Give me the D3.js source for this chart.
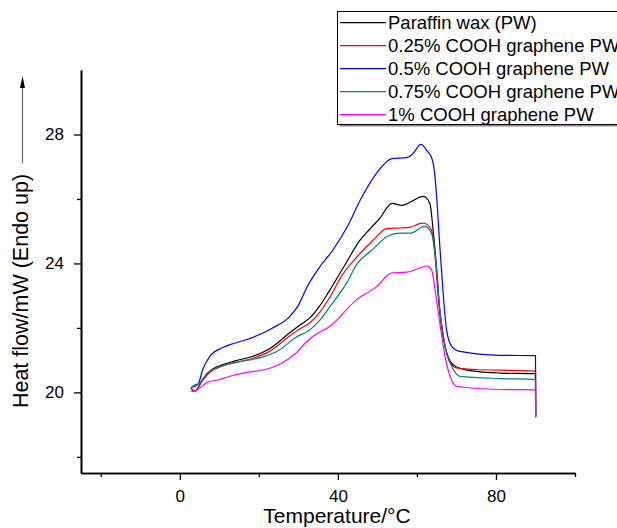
<!DOCTYPE html>
<html>
<head>
<meta charset="utf-8">
<script src="https://cdn.jsdelivr.net/npm/d3@7"></script>
<style>
  body { margin: 0; background: #fff; }
  svg { display: block; font-family: "Liberation Sans", Arial, sans-serif; }
</style>
</head>
<body>
<svg id="chart" width="617" height="528"></svg>
<script>
"use strict";

// DSC curves, [temperature °C, heat flow mW]
const pw = [[2.8,20.12],[3.8,20.04],[5.8,20.40],[7.6,20.66],[10.9,20.86],[14,20.98],[18.5,21.12],[22.8,21.36],[27.8,21.85],[30.5,22.1],[32.9,22.31],[35.5,22.7],[38,23.18],[42,24.0],[45.6,24.72],[48.2,25.08],[50.6,25.4],[53.7,25.86],[56.2,25.8],[58.7,25.93],[61.5,26.08],[62.2,26.05],[63.3,25.85],[64.1,25.03],[65,23.8],[65.8,22.47],[67.1,21.43],[68.4,20.97],[70,20.79],[75,20.65],[81,20.6],[90,20.58],[90.05,19.23]];
const g025 = [[2.8,20.12],[3.8,20.04],[5.8,20.37],[7.6,20.62],[10.9,20.82],[14,20.93],[18.5,21.06],[22.8,21.28],[27.8,21.75],[30.5,21.98],[32.9,22.16],[35.5,22.5],[38,22.96],[41,23.62],[44.8,24.2],[48.9,24.72],[52.4,25.08],[55.7,25.1],[58.2,25.12],[61.3,25.25],[62,25.24],[63.7,25.03],[64.6,24.21],[65.4,22.97],[66.7,21.74],[68.4,20.92],[70,20.76],[75,20.71],[81,20.69],[90,20.66],[90.05,19.25]];
const g05 = [[2.8,20.15],[4.6,20.25],[5.8,20.71],[7.6,21.12],[10.9,21.39],[12.7,21.48],[17,21.64],[23.5,22.0],[27.8,22.35],[30,22.7],[32.2,23.27],[35.4,23.89],[38.7,24.41],[42.3,25.12],[45.8,26.0],[49.9,26.82],[53.7,27.25],[57.5,27.28],[59,27.41],[61,27.69],[62.5,27.5],[63.8,27.25],[64.3,26.98],[65,26.06],[65.8,24.52],[66.7,22.97],[67.5,21.94],[68.8,21.43],[70.9,21.27],[81,21.15],[90,21.14],[90.05,19.3]];
const g075 = [[2.8,20.12],[3.3,20.19],[5.1,20.3],[6.8,20.58],[10.1,20.8],[14.4,20.93],[21,21.1],[25,21.3],[29.5,21.72],[32.9,21.94],[35.5,22.25],[38,22.66],[42.2,23.39],[44.8,23.98],[48.5,24.4],[52.7,24.85],[55.7,24.94],[58.5,24.94],[61.3,25.13],[62,25.15],[63.7,24.93],[65,23.8],[65.8,22.56],[67.1,21.43],[68.8,20.81],[70.9,20.5],[81,20.43],[90,20.4],[90.05,19.25]];
const g1 = [[2.8,20.02],[4.3,20.07],[6.8,20.3],[10.1,20.4],[12.7,20.5],[17,20.62],[22.8,20.75],[26,20.92],[29.5,21.23],[31.5,21.5],[33.7,21.74],[38,22.05],[44.7,22.87],[49.8,23.28],[53.5,23.7],[57.5,23.73],[60.8,23.86],[62.6,23.92],[63.7,23.8],[64.6,23.18],[65.8,22.15],[67.1,21.12],[68.4,20.5],[70,20.19],[81,20.09],[90,20.08],[90.05,19.23]];

const seriesNames = ["Paraffin wax (PW)", "0.25% COOH graphene PW", "0.5% COOH graphene PW", "0.75% COOH graphene PW", "1% COOH graphene PW"];
const seriesData = [pw, g025, g05, g075, g1];
const seriesColors = ["#000000", "#ff0000", "#0000ff", "#008080", "#ff00ff"];

const xMajor = [0, 40, 80];
const xMinor = [-20, 20, 60, 100];
const yMajor = [20, 24, 28];
const yMinor = [18, 22, 26];

const svg = d3.select("#chart");

let x = d3.scaleLinear().domain([-25, 100]).range([81, 575]);
let y = d3.scaleLinear().domain([17.5, 30]).range([473, 70]);

// axes: major ticks with labels, shorter minor ticks
svg.append("g")
    .attr("transform", "translate(0,473)")
    .call(d3.axisBottom(x).tickValues(xMajor).tickSize(7).tickSizeOuter(0).tickPadding(10))
    .call(g => g.selectAll("text").style("font-size", "17px").attr("fill", "#000"));
svg.append("g")
    .attr("transform", "translate(0,473)")
    .call(d3.axisBottom(x).tickValues(xMinor).tickSize(4).tickSizeOuter(0).tickFormat(""));
svg.append("g")
    .attr("transform", "translate(81,0)")
    .call(d3.axisLeft(y).tickValues(yMajor).tickSize(7).tickSizeOuter(0).tickPadding(10))
    .call(g => g.selectAll("text").style("font-size", "17px").attr("fill", "#000"));
svg.append("g")
    .attr("transform", "translate(81,0)")
    .call(d3.axisLeft(y).tickValues(yMinor).tickSize(4).tickSizeOuter(0).tickFormat(""));
svg.selectAll(".domain").attr("stroke-width", 1.6);
svg.selectAll(".tick line").attr("stroke-width", 1.3);

// axis titles
svg.append("text")
    .attr("x", 337).attr("y", 523)
    .attr("text-anchor", "middle")
    .style("font-size", "21px")
    .text("Temperature/°C");

svg.append("text")
    .attr("transform", "translate(28,291) rotate(-90)")
    .attr("text-anchor", "middle")
    .style("font-size", "21.5px")
    .text("Heat flow/mW (Endo up)");

// "endo up" arrow
svg.append("line")
    .attr("x1", 22.5).attr("x2", 22.5).attr("y1", 163).attr("y2", 86)
    .attr("stroke", "#666").attr("stroke-width", 1.2);
svg.append("path")
    .attr("d", "M22.5,76 L20,88 L25,88 Z")
    .attr("fill", "#000");

// curves
const line = d3.line()
    .x(d => x(d[0]))
    .y(d => y(d[1]))
    .curve(d3.curveMonotoneX);

seriesData.forEach((data, i) => {
  svg.append("path")
      .datum(data)
      .attr("fill", "none")
      .attr("stroke", seriesColors[i])
      .attr("stroke-width", 1.2)
      .attr("d", line);
});

// legend box, runs off the right edge as in the original
svg.append("rect")
    .attr("x", 339.5).attr("y", 13.5).attr("width", 300).attr("height", 113)
    .attr("fill", "#888");
svg.append("rect")
    .attr("x", 337.5).attr("y", 11.5).attr("width", 300).attr("height", 113)
    .attr("fill", "#fff").attr("stroke", "#000").attr("stroke-width", 1);

seriesNames.forEach((name, i) => {
  let cy = 22.7 + i * 23;
  svg.append("line")
      .attr("x1", 340).attr("x2", 386).attr("y1", cy).attr("y2", cy)
      .attr("stroke", seriesColors[i]).attr("stroke-width", 1.2);
  svg.append("text")
      .attr("x", 388).attr("y", cy + 6.6)
      .style("font-size", "18.5px")
      .text(name);
});
</script>
</body>
</html>
